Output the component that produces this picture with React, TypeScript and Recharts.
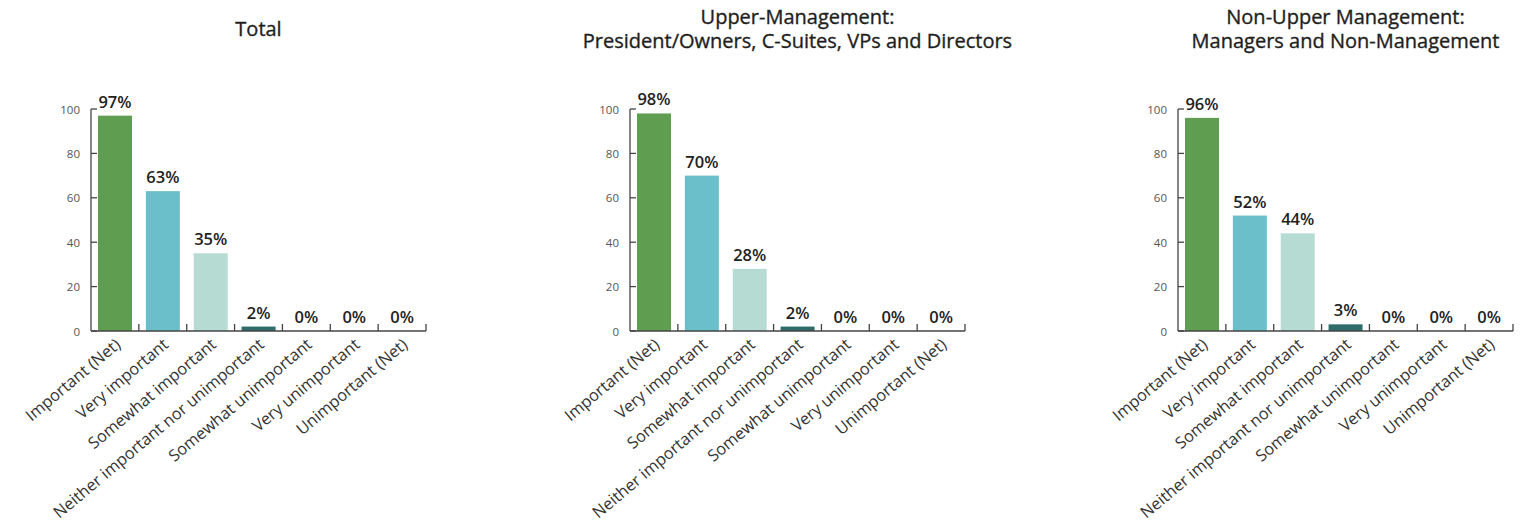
import React from 'react';
import { BarChart, Bar, XAxis, YAxis } from 'recharts';

const categories = [
  'Important (Net)',
  'Very important',
  'Somewhat important',
  'Neither important nor unimportant',
  'Somewhat unimportant',
  'Very unimportant',
  'Unimportant (Net)',
];

const totalValues = [97, 63, 35, 2, 0, 0, 0];
const upperValues = [98, 70, 28, 2, 0, 0, 0];
const nonUpperValues = [96, 52, 44, 3, 0, 0, 0];

const yTicks = [0, 20, 40, 60, 80, 100];

const barColors = ['#5f9e50', '#6bbfca', '#b5dbd3', '#2f6c6a', '#2f6c6a', '#2f6c6a', '#2f6c6a'];

const panelTitles = [
  ['Total'],
  ['Upper-Management:', 'President/Owners, C-Suites, VPs and Directors'],
  ['Non-Upper Management:', 'Managers and Non-Management'],
];

const FONT = '"Open Sans", "DejaVu Sans", sans-serif';

const CHART_W = 460;
const CHART_H = 528;
const M_LEFT = 51;
const Y_W = 40;
const M_RIGHT = 34;
const M_TOP = 109;
const X_H = 190;
const M_BOTTOM = 7;
const PLOT_W = CHART_W - M_LEFT - Y_W - M_RIGHT;
const BAND = PLOT_W / categories.length;

const XTick = (props: any) => {
  const { x, y, payload } = props;
  const axisY = y;
  const bx = x + BAND / 2;
  return (
    <g>
      <line x1={bx} y1={axisY} x2={bx} y2={axisY - 7} stroke="#444" strokeWidth={1.3} />
      <text
        x={x + 3}
        y={axisY + 11}
        dy="0.35em"
        textAnchor="end"
        transform={`rotate(-40 ${x + 3} ${axisY + 11})`}
        fontSize={16.3}
        fill="#333"
        fontFamily={FONT}
      >
        {payload.value}
      </text>
    </g>
  );
};

const YTick = (props: any) => {
  const { x, y, payload } = props;
  return (
    <g>
      <line x1={91} y1={y} x2={97} y2={y} stroke="#444" strokeWidth={1.3} />
      <text x={80} y={y} dy="0.4em" textAnchor="end" fontSize={11.5} fill="#555" fontFamily={FONT}>
        {payload.value}
      </text>
    </g>
  );
};

const BarShape = (props: any) => {
  const { x, y, width, height, index, value } = props;
  const v = Array.isArray(value) ? value[1] - value[0] : value;
  const h = v === 0 ? 0 : height;
  return (
    <g>
      {h > 0 && <rect x={x} y={y} width={width} height={h} fill={barColors[index]} />}
      <text
        x={x + width / 2}
        y={y - 8}
        textAnchor="middle"
        fontSize={16.5}
        fontWeight={600}
        fill="#222"
        fontFamily={FONT}
      >
        {`${v}%`}
      </text>
    </g>
  );
};

function Panel({ values, left }: { values: number[]; left: number }) {
  const data = categories.map((c, i) => ({ name: c, value: values[i] }));
  return (
    <div style={{ position: 'absolute', left, top: 0 }}>
      <BarChart
        width={CHART_W}
        height={CHART_H}
        data={data}
        margin={{ top: M_TOP, right: M_RIGHT, left: M_LEFT, bottom: M_BOTTOM }}
        barCategoryGap={7}
      >
        <XAxis
          dataKey="name"
          interval={0}
          height={X_H}
          tickSize={0}
          tickMargin={0}
          tickLine={false}
          axisLine={{ stroke: '#444', strokeWidth: 1.3 }}
          tick={<XTick />}
        />
        <YAxis
          domain={[0, 100]}
          ticks={yTicks}
          width={Y_W}
          tickLine={false}
          axisLine={{ stroke: '#444', strokeWidth: 1.3 }}
          tick={<YTick />}
        />
        <Bar dataKey="value" isAnimationActive={false} minPointSize={0.01} shape={<BarShape />} />
      </BarChart>
    </div>
  );
}

function Title({ lines, center }: { lines: string[]; center: number }) {
  const top = lines.length === 1 ? 17 : 5;
  return (
    <div
      style={{
        position: 'absolute',
        left: center - 300,
        width: 600,
        top,
        textAlign: 'center',
        fontFamily: FONT,
        fontSize: 20,
        fontWeight: 500,
        color: '#1e1e1e',
        lineHeight: '24px',
        WebkitTextStroke: '0.35px #1e1e1e',
      }}
    >
      {lines.map((l) => (
        <div key={l}>{l}</div>
      ))}
    </div>
  );
}

export default function App() {
  const lefts = [0, 539, 1087];
  return (
    <div style={{ position: 'absolute', left: 0, top: 0, width: 1538, height: 528, background: '#fff', overflow: 'hidden' }}>
      {panelTitles.map((t, i) => (
        <Title key={i} lines={t} center={lefts[i] + M_LEFT + Y_W + PLOT_W / 2} />
      ))}
      <Panel values={totalValues} left={lefts[0]} />
      <Panel values={upperValues} left={lefts[1]} />
      <Panel values={nonUpperValues} left={lefts[2]} />
    </div>
  );
}
